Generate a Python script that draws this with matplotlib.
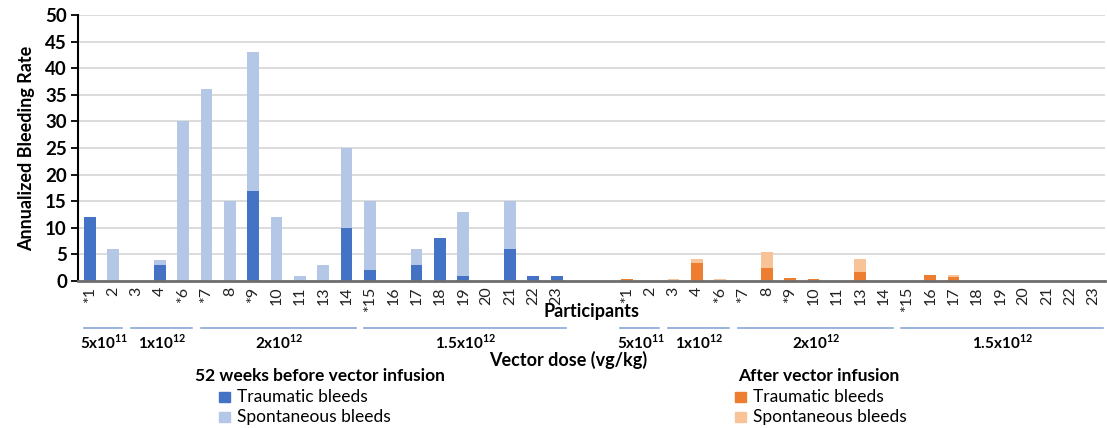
import numpy as np
import matplotlib
matplotlib.use("Agg")
import matplotlib.pyplot as plt
from matplotlib.patches import Rectangle

plt.rcParams["font.family"] = ["Lato", "DejaVu Sans"]
plt.rcParams["mathtext.fontset"] = "custom"
plt.rcParams["mathtext.bf"] = "Lato:bold"
plt.rcParams["mathtext.rm"] = "Lato"

participants = ["*1", "2", "3", "4", "*6", "*7", "8", "*9", "10", "11", "13",
                "14", "*15", "16", "17", "18", "19", "20", "21", "22", "23"]

# before vector infusion (52 weeks)
pre_traumatic   = [12, 0, 0, 3, 0, 0, 0, 17, 0, 0, 0, 10, 2, 0, 3, 8, 1, 0, 6, 1, 1]
pre_spontaneous = [0, 6, 0, 1, 30, 36, 15, 26, 12, 1, 3, 15, 13, 0, 3, 0, 12, 0, 9, 0, 0]

# after vector infusion
post_traumatic   = [0.3, 0, 0, 3.4, 0, 0, 2.4, 0.5, 0.3, 0, 1.7, 0, 0, 1.2, 0.8, 0, 0, 0, 0, 0, 0]
post_spontaneous = [0, 0, 0.3, 0.8, 0.3, 0, 3.0, 0, 0, 0, 2.5, 0, 0, 0, 0.4, 0, 0, 0, 0, 0, 0]

doses = ["5x10$^{\\mathbf{11}}$", "1x10$^{\\mathbf{12}}$", "2x10$^{\\mathbf{12}}$",
         "1.5x10$^{\\mathbf{12}}$"]
dose_groups = [(0, 1), (2, 4), (5, 11), (12, 20)]   # index ranges within each half

BLUE, LBLUE = "#4472C4", "#B4C7E7"
ORANGE, LORANGE = "#ED7D31", "#F8C497"

n = len(participants)
gap = 2
x_pre = np.arange(n)
x_post = np.arange(n) + n + gap

fig = plt.figure(figsize=(11.07, 4.28), dpi=100)
ax = fig.add_axes([0.0705, 0.3435, 0.928, 0.6215])

w = 0.5
ax.bar(x_pre, pre_traumatic, w, color=BLUE, zorder=3)
ax.bar(x_pre, pre_spontaneous, w, bottom=pre_traumatic, color=LBLUE, zorder=3)
ax.bar(x_post, post_traumatic, w, color=ORANGE, zorder=3)
ax.bar(x_post, post_spontaneous, w, bottom=post_traumatic, color=LORANGE, zorder=3)

ax.set_xlim(-0.5, x_post[-1] + 0.5)
ax.set_ylim(0, 50)
ax.set_yticks(range(0, 51, 5))
ax.yaxis.grid(True, color="#D9D9D9", linewidth=1.3, zorder=0)
ax.tick_params(axis="y", labelsize=13.5, length=5, width=1.3, pad=3)
for lbl in ax.get_yticklabels():
    lbl.set_fontweight("bold")

ax.set_xticks(np.concatenate([x_pre, x_post]))
ax.set_xticklabels(participants + participants, rotation=90, fontsize=11.5,
                   color="#222222", va="top")
ax.tick_params(axis="x", length=0, pad=4)

for s in ["top", "right"]:
    ax.spines[s].set_visible(False)
ax.spines["left"].set_linewidth(1.5)
ax.spines["bottom"].set_color("#6E6E6E")
ax.spines["bottom"].set_linewidth(2)
ax.spines["bottom"].set_zorder(4)

ax.set_ylabel("Annualized Bleeding Rate", fontsize=13, fontweight="bold", labelpad=7)

trans = ax.get_xaxis_transform()
ax.text(21.5, -0.115, "Participants", transform=trans, ha="center", va="center",
        fontsize=13, fontweight="bold", clip_on=False)

# dose brackets
line_y, label_y = -0.175, -0.232
for offset in (0, n + gap):
    for i, ((a, b), lab) in enumerate(zip(dose_groups, doses)):
        x0 = a + offset - 0.25
        x1 = b + offset + 0.4
        if offset > 0 and i == 0:
            x0 = a + offset - 0.3
        ax.plot([x0, x1], [line_y, line_y], transform=trans, color="#7F9FD6",
                linewidth=1.1, clip_on=False)
        ax.text((a + b) / 2 + offset + 0.1, label_y, lab, transform=trans,
                ha="center", va="center", fontsize=11, fontweight="bold",
                clip_on=False)

fig.text(0.513, 0.158, "Vector dose (vg/kg)", ha="center", va="center",
         fontsize=13, fontweight="bold")

# legends
def legend_block(x_title, x_box, title, c1, c2):
    fig.text(x_title, 0.122, title, ha="left", va="center", fontsize=12.5,
             fontweight="bold")
    for yy, col, lab in [(0.072, c1, "Traumatic bleeds"), (0.025, c2, "Spontaneous bleeds")]:
        fig.patches.append(Rectangle((x_box, yy - 0.011), 0.0095, 0.023,
                                     transform=fig.transFigure, color=col))
        fig.text(x_box + 0.016, yy, lab, ha="left", va="center", fontsize=12.5)

legend_block(0.176, 0.198, "52 weeks before vector infusion", BLUE, LBLUE)
legend_block(0.667, 0.664, "After vector infusion", ORANGE, LORANGE)

fig.savefig("out.png", dpi=100)
